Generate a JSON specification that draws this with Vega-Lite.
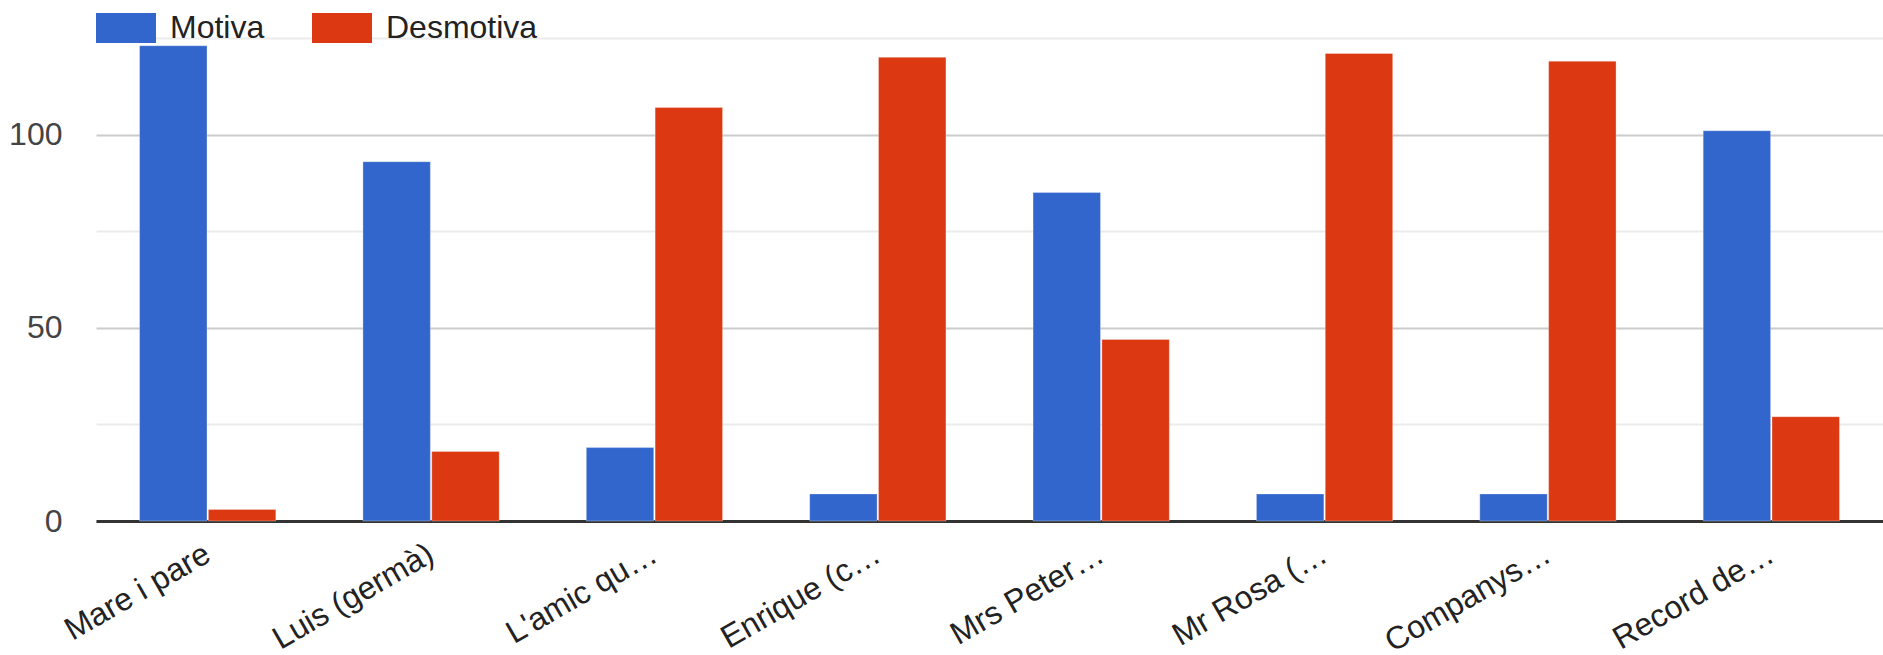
{
  "$schema": "https://vega.github.io/schema/vega-lite/v6.json",
  "width": 1787,
  "height": 483,
  "autosize": {"type": "none"},
  "padding": {"left": 96, "top": 38, "right": 0, "bottom": 134},
  "background": "white",
  "config": {
    "view": {"stroke": null},
    "font": "Liberation Sans"
  },
  "data": {
    "values": [
      {"cat": "Mare i pare", "serie": "Motiva", "value": 123},
      {"cat": "Mare i pare", "serie": "Desmotiva", "value": 3},
      {"cat": "Luis (germà)", "serie": "Motiva", "value": 93},
      {"cat": "Luis (germà)", "serie": "Desmotiva", "value": 18},
      {"cat": "L'amic qu…", "serie": "Motiva", "value": 19},
      {"cat": "L'amic qu…", "serie": "Desmotiva", "value": 107},
      {"cat": "Enrique (c…", "serie": "Motiva", "value": 7},
      {"cat": "Enrique (c…", "serie": "Desmotiva", "value": 120},
      {"cat": "Mrs Peter…", "serie": "Motiva", "value": 85},
      {"cat": "Mrs Peter…", "serie": "Desmotiva", "value": 47},
      {"cat": "Mr Rosa (…", "serie": "Motiva", "value": 7},
      {"cat": "Mr Rosa (…", "serie": "Desmotiva", "value": 121},
      {"cat": "Companys…", "serie": "Motiva", "value": 7},
      {"cat": "Companys…", "serie": "Desmotiva", "value": 119},
      {"cat": "Record de…", "serie": "Motiva", "value": 101},
      {"cat": "Record de…", "serie": "Desmotiva", "value": 27}
    ]
  },
  "mark": {"type": "bar", "stroke": "white", "strokeWidth": 0.5, "strokeOpacity": 0.6},
  "encoding": {
    "x": {
      "field": "cat",
      "type": "nominal",
      "sort": null,
      "title": null,
      "scale": {"paddingInner": 0.39, "paddingOuter": 0.195},
      "axis": {
        "labelAngle": -30,
        "labelAlign": "right",
        "labelBaseline": "middle",
        "labelFontSize": 32,
        "labelColor": "#222222",
        "labelPadding": 30,
        "labelDx": -6,
        "ticks": false,
        "domainColor": "#333333",
        "domainWidth": 3,
        "grid": false,
        "labelLimit": 0
      }
    },
    "xOffset": {
      "field": "serie",
      "type": "nominal",
      "sort": ["Motiva", "Desmotiva"],
      "scale": {"paddingInner": 0.02}
    },
    "y": {
      "field": "value",
      "type": "quantitative",
      "title": null,
      "scale": {"domain": [0, 125], "nice": false},
      "axis": {
        "values": [0, 25, 50, 75, 100, 125],
        "labelExpr": "datum.value % 50 === 0 ? datum.label : ''",
        "labelFontSize": 32,
        "labelColor": "#444444",
        "labelPadding": 34,
        "ticks": false,
        "domain": false,
        "gridColor": {"condition": {"test": "datum.value % 50 === 0", "value": "#cccccc"}, "value": "#ebebeb"},
        "gridWidth": 2
      }
    },
    "color": {
      "field": "serie",
      "type": "nominal",
      "sort": ["Motiva", "Desmotiva"],
      "scale": {"domain": ["Motiva", "Desmotiva"], "range": ["#3366cc", "#dc3912"]},
      "legend": {
        "title": null,
        "orient": "none",
        "legendX": 0,
        "legendY": -40,
        "direction": "horizontal",
        "symbolType": "M-1,-0.5H1V0.5H-1Z",
        "symbolSize": 3600,
        "symbolStrokeWidth": 0,
        "symbolOpacity": 1,
        "labelFontSize": 32,
        "labelColor": "#222222",
        "labelOffset": 14,
        "columnPadding": 47,
        "labelLimit": 0
      }
    }
  }
}
